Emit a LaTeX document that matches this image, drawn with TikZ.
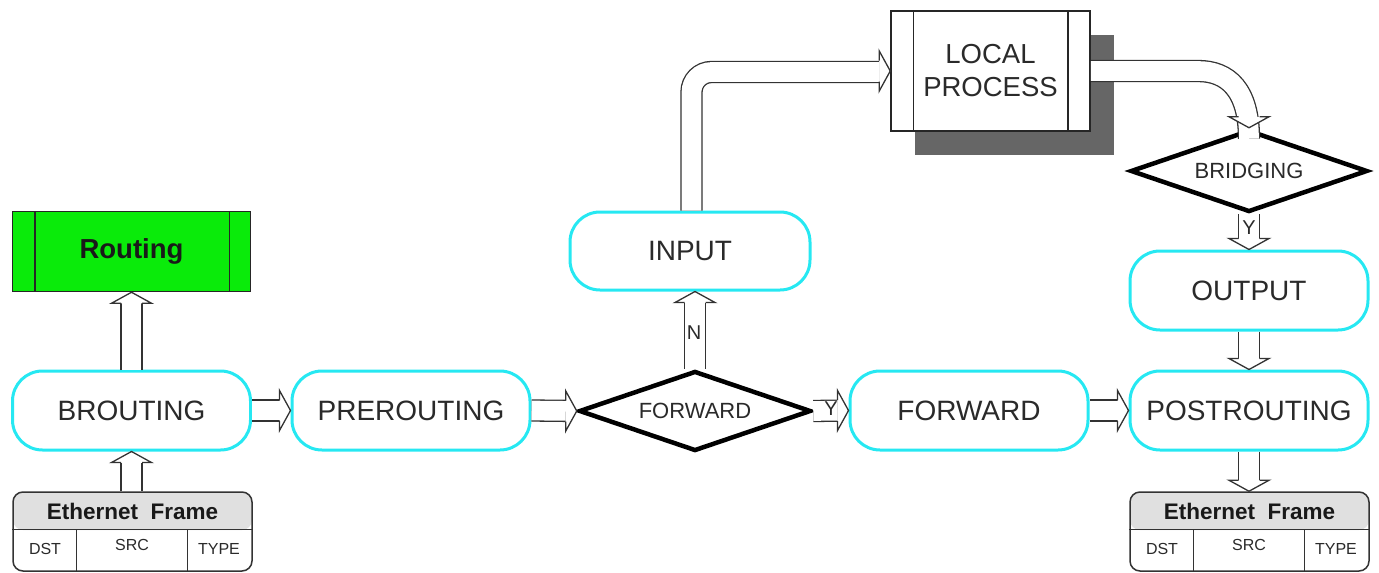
\documentclass[tikz,border=0pt]{standalone}
\usepackage{fontspec}
\setmainfont{Liberation Sans}
\usetikzlibrary{shapes.geometric,calc,shadows}
\definecolor{hookcyan}{RGB}{38,232,242}
\definecolor{routegreen}{RGB}{10,235,10}
\definecolor{txt}{RGB}{42,42,42}
\definecolor{shade}{RGB}{102,102,102}
\definecolor{hdrgrey}{RGB}{224,224,224}

% hollow arrow geometry: head length, half shaft width, half head width
\def\hl{11pt}
\def\sw{10.5pt}
\def\bw{20pt}

\tikzset{
  hook/.style={draw=hookcyan, line width=3pt, rounded corners=30pt, fill=white,
    minimum width=238pt, minimum height=79pt, inner sep=0pt, text=txt,
    font=\fontsize{28}{30}\selectfont},
  decide/.style={diamond, draw=black, line width=4.5pt, line join=miter, fill=white,
    inner sep=0pt, aspect=2.9, text=txt, font=\fontsize{22}{24}\selectfont},
  procbox/.style={rectangle, draw=black!85, line width=1.5pt, inner sep=0pt},
  shaft/.style={draw=black!80, line width=1.3pt, double=white, double distance=19.7pt},
  headst/.style={draw=black!80, line width=1.3pt, fill=white, line join=miter},
  frame/.style={rectangle, rounded corners=10pt, draw=black!80, line width=1.5pt,
    minimum width=239pt, minimum height=79pt, inner sep=0pt, fill=white,
    path picture={\fill[hdrgrey] (path picture bounding box.north west) rectangle
      ([yshift=-38pt]path picture bounding box.north east);}},
  framehdr/.style={font=\bfseries\fontsize{22.5}{24}\selectfont, text=black!90},
  framefld/.style={font=\fontsize{16}{18}\selectfont, text=txt},
  flag/.style={font=\fontsize{20}{22}\selectfont, text=txt, inner sep=0pt},
}

% open arrow head with its tip at #1, pointing in direction #2 (degrees)
\newcommand\tiphead[2]{%
  \filldraw[headst]
    ($(#1)+({#2+180}:\hl)+({#2+90}:\sw)$) --
    ($(#1)+({#2+180}:\hl)+({#2+90}:\bw)$) -- (#1) --
    ($(#1)+({#2+180}:\hl)+({#2-90}:\bw)$) --
    ($(#1)+({#2+180}:\hl)+({#2-90}:\sw)$);}
% straight hollow arrow from #1 to tip #2, direction #3
\newcommand\hollow[3]{%
  \draw[shaft] (#1) -- ($(#2)!\hl!(#1)$);
  \tiphead{#2}{#3}}

\begin{document}
\begin{tikzpicture}[x=1pt,y=-1pt]
\useasboundingbox (0,0) rectangle (1379,573);

% chains and decisions
\node[procbox, fill=routegreen, minimum width=238pt, minimum height=80pt,
  font=\bfseries\fontsize{27.5}{30}\selectfont, text=black!90] (routing) at (131.5,251.5) {Routing};
\node[hook] (brout) at (131.5,410.5) {BROUTING};
\node[hook] (prer) at (411,410.5) {PREROUTING};
\node[decide, minimum width=232pt, minimum height=80pt] (fwdD) at (695,411) {FORWARD};
\node[hook] (fwd) at (969,410.5) {FORWARD};
\node[hook] (post) at (1249,410.5) {POSTROUTING};
\node[hook, minimum width=240pt, minimum height=78pt] (input) at (690,251) {INPUT};
\node[hook] (output) at (1249,290.5) {OUTPUT};
\node[decide, minimum width=237pt, minimum height=82pt] (brid) at (1249,171) {BRIDGING};

% local process box with its shadow and side bars
\node[procbox, fill=white, minimum width=199pt, minimum height=120pt, align=center,
  text=txt, font=\fontsize{27.5}{33}\selectfont,
  drop shadow={shadow xshift=24pt, shadow yshift=-24pt, fill=shade, opacity=1}]
  (lp) at (990.5,71) {LOCAL\\PROCESS};
\draw[black!85, line width=1.5pt] ([xshift=23pt]lp.north west) -- ([xshift=23pt]lp.south west);
\draw[black!85, line width=1.5pt] ([xshift=-23pt]lp.north east) -- ([xshift=-23pt]lp.south east);
\draw[black!85, line width=1.5pt] ([xshift=23pt]routing.north west) -- ([xshift=23pt]routing.south west);
\draw[black!85, line width=1.5pt] ([xshift=-22pt]routing.north east) -- ([xshift=-22pt]routing.south east);

% ethernet frames
\node[frame] (ethA) at (132.5,531.5) {};
\node[frame] (ethB) at (1249.5,531.5) {};
\foreach \f in {ethA,ethB}{
  \draw[black!80, line width=1.5pt] ([yshift=-38pt]\f.north west) -- ([yshift=-38pt]\f.north east);
  \draw[black!80, line width=1.5pt] ([xshift=64pt,yshift=-38pt]\f.north west) -- ([xshift=64pt]\f.south west);
  \draw[black!80, line width=1.5pt] ([xshift=175pt,yshift=-38pt]\f.north west) -- ([xshift=175pt]\f.south west);
}
\node[framehdr] (ethAh) at (132.5,511) {Ethernet\ \ Frame};
\node[framefld] (ethAd) at (45,549) {DST};
\node[framefld] (ethAs) at (132,545) {SRC};
\node[framefld] (ethAt) at (219,549) {TYPE};
\node[framehdr] (ethBh) at (1249.5,511) {Ethernet\ \ Frame};
\node[framefld] (ethBd) at (1162,549) {DST};
\node[framefld] (ethBs) at (1249,545) {SRC};
\node[framefld] (ethBt) at (1336,549) {TYPE};

% packet flow
\hollow{ethA.north -| brout.south}{brout.south}{90}
\hollow{brout.north}{routing.south -| brout.north}{90}
\hollow{brout.east}{prer.west}{0}
\hollow{prer.east}{fwdD.west}{0}
\hollow{fwdD.east}{fwd.west}{0}
\hollow{fwd.east}{post.west}{0}
\hollow{fwdD.north}{fwdD.north |- input.south}{90}
\hollow{brid.south}{output.north}{-90}
\hollow{output.south}{post.north}{-90}
\hollow{post.south}{ethB.north -| post.south}{-90}

% into and out of the local process
\draw[shaft, rounded corners=20pt] ([xshift=1.5pt]input.north) |- ($(lp.west)+(-\hl,1)$);
\tiphead{lp.west}{0}
\draw[shaft] (lp.east) -- (1198,71) .. controls (1228,71) and (1249,90) .. ($(brid.north)+(0,-\hl)$);
\tiphead{brid.north}{-90}

% branch labels
\node[flag] (lblN) at (694,333) {N};
\node[flag] (lblY1) at (831,409) {Y};
\node[flag] (lblY2) at (1249,228) {Y};
\end{tikzpicture}
\end{document}
